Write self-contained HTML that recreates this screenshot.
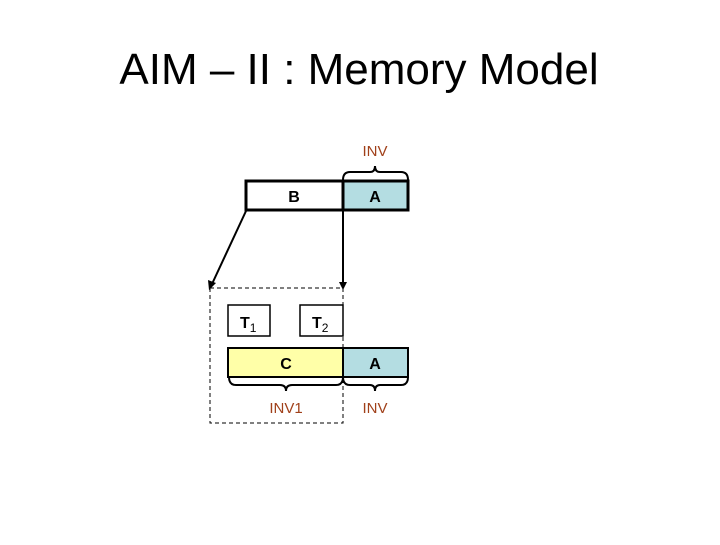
<!DOCTYPE html>
<html><head><style>
body{margin:0;width:720px;height:540px;background:#fff;overflow:hidden;font-family:"Liberation Sans",sans-serif}
</style></head><body>
<svg width="720" height="540" xmlns="http://www.w3.org/2000/svg" font-family="Liberation Sans, sans-serif">
<text x="359" y="84" font-size="44" text-anchor="middle" fill="#000">AIM – II : Memory Model</text>
<text x="375" y="156" font-size="15" text-anchor="middle" fill="#a0401a">INV</text>
<path d="M343,180 Q343,172 350,172 L370,172 Q375,172 375,166 Q375,172 380,172 L401,172 Q408,172 408,180" fill="none" stroke="#000" stroke-width="2"/>
<rect x="246" y="181" width="97" height="29" fill="#fff" stroke="#000" stroke-width="3"/>
<rect x="343" y="181" width="65" height="29" fill="#b4dde2" stroke="#000" stroke-width="3"/>
<text x="294" y="202" font-size="16" font-weight="bold" text-anchor="middle">B</text>
<text x="375" y="202" font-size="16" font-weight="bold" text-anchor="middle">A</text>
<line x1="246" y1="211" x2="212" y2="284" stroke="#000" stroke-width="2"/>
<polygon points="209,290 208,280 216,283" fill="#000"/>
<line x1="343" y1="211" x2="343" y2="283" stroke="#000" stroke-width="2"/>
<polygon points="343,290 339,282 347,282" fill="#000"/>
<rect x="210" y="288" width="133" height="135" fill="none" stroke="#000" stroke-width="1" stroke-dasharray="4,3"/>
<rect x="228" y="305" width="42" height="31" fill="#fff" stroke="#000" stroke-width="1.5"/>
<rect x="300" y="305" width="43" height="31" fill="#fff" stroke="#000" stroke-width="1.5"/>
<text x="240" y="328" font-size="16" font-weight="bold">T<tspan font-size="12" font-weight="normal" dy="4">1</tspan></text>
<text x="312" y="328" font-size="16" font-weight="bold">T<tspan font-size="12" font-weight="normal" dy="4">2</tspan></text>
<rect x="228" y="348" width="115" height="29" fill="#ffffa8" stroke="#000" stroke-width="2"/>
<rect x="343" y="348" width="65" height="29" fill="#b4dde2" stroke="#000" stroke-width="2"/>
<text x="286" y="369" font-size="16" font-weight="bold" text-anchor="middle">C</text>
<text x="375" y="369" font-size="16" font-weight="bold" text-anchor="middle">A</text>
<path d="M229,377 Q229,385 236,385 L280,385 Q286,385 286,391 Q286,385 292,385 L336,385 Q343,385 343,377" fill="none" stroke="#000" stroke-width="2"/>
<path d="M343,377 Q343,385 350,385 L370,385 Q375,385 375,391 Q375,385 380,385 L401,385 Q408,385 408,377" fill="none" stroke="#000" stroke-width="2"/>
<text x="286" y="413" font-size="15" text-anchor="middle" fill="#a0401a">INV1</text>
<text x="375" y="413" font-size="15" text-anchor="middle" fill="#a0401a">INV</text>
</svg>
</body></html>
